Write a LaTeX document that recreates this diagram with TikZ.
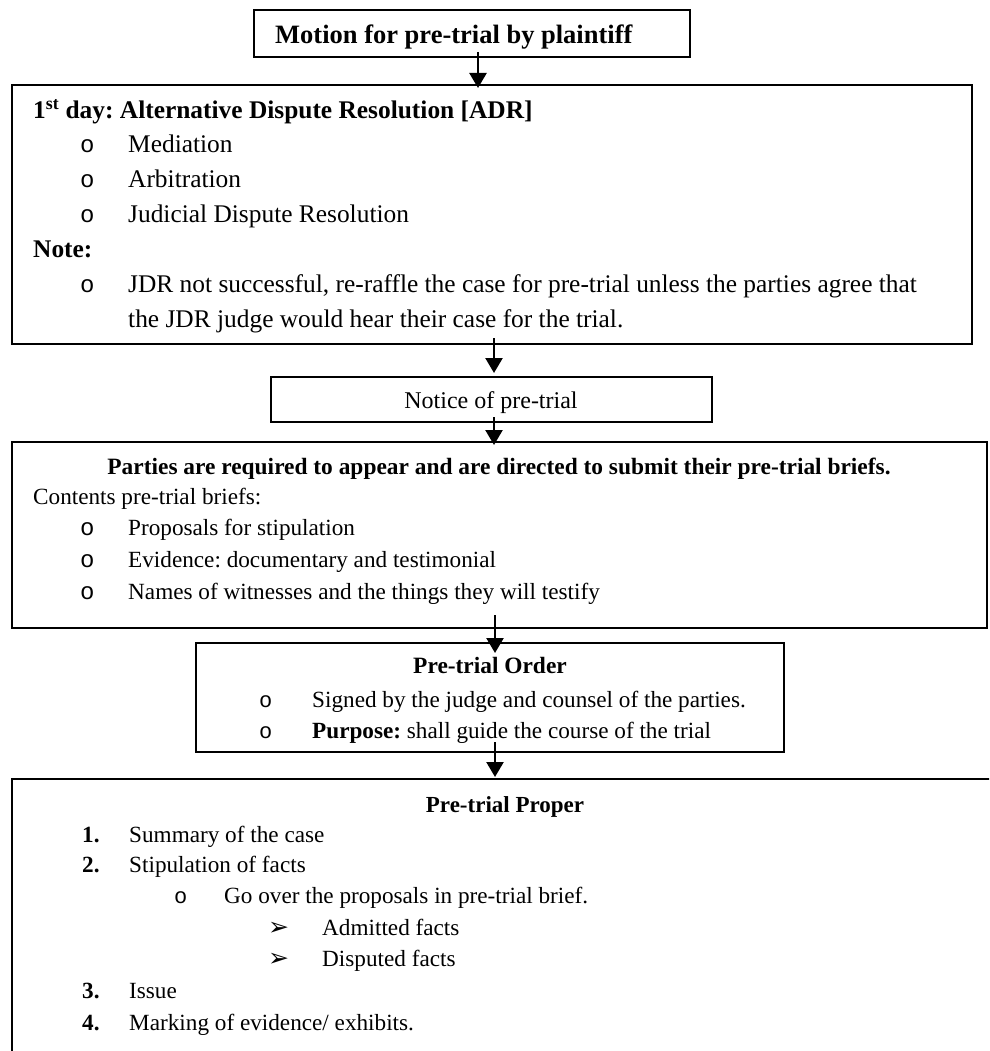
\documentclass[tikz,border=0pt]{standalone}
\usepackage{fontspec}
\setmainfont{Liberation Serif}
\newfontfamily\monofont{Liberation Mono}
\newfontfamily\symfont{DejaVu Sans}
\usetikzlibrary{arrows.meta}
\frenchspacing

\tikzset{
  box/.style={draw, line width=1.8pt, inner sep=0pt, outer sep=0pt, anchor=north west},
  arr/.style={line width=2.4pt, -{Triangle[width=17pt,length=15pt]}},
  txt/.style={anchor=base west, inner sep=0pt},
  ctxt/.style={anchor=base, inner sep=0pt},
  big/.style={font=\fontsize{25.4}{30}\selectfont},
  small/.style={font=\fontsize{23.2}{28}\selectfont},
  bul/.style={anchor=base west, inner sep=0pt, font=\monofont\fontsize{24}{28}\selectfont},
  sbul/.style={anchor=base west, inner sep=0pt, font=\monofont\fontsize{22}{26}\selectfont},
  arrbul/.style={anchor=base west, inner sep=0pt, font=\symfont\fontsize{25}{28}\selectfont},
}

\begin{document}
\begin{tikzpicture}[x=1pt, y=-1pt]
\frenchspacing
\useasboundingbox (0,0) rectangle (989,1051);
\fill[white] (0,0) rectangle (989,1051);
\clip (0,0) rectangle (989,1051);

% boxes
\node[box, minimum width=436pt, minimum height=47pt] (motion) at (254,10) {};
\node[box, minimum width=960pt, minimum height=259pt] (adr) at (12,85) {};
\node[box, minimum width=441pt, minimum height=45pt] (notice) at (271,377) {};
\node[box, minimum width=975pt, minimum height=186pt] (parties) at (12,442) {};
\node[box, minimum width=588pt, minimum height=109pt] (order) at (196,643) {};
\node[box, minimum width=990pt, minimum height=320pt] (proper) at (12,779) {};

% motion text (clipped at the bottom as in the source)
\begin{scope}
  \clip (254,10) rectangle (690,49);
  \node[txt, font=\bfseries\fontsize{26.5}{30}\selectfont] (tmotion) at (275,44) {Motion for pre-trial by plaintiff};
\end{scope}

% ADR box
\node[txt, big] (adrh) at (33,119) {\textbf{1\textsuperscript{st} day: Alternative Dispute Resolution [ADR]}};
\node[bul] (b1) at (80,153) {o};
\node[txt, big] (i1) at (128,153) {Mediation};
\node[bul] (b2) at (80,187) {o};
\node[txt, big] (i2) at (128,187) {Arbitration};
\node[bul] (b3) at (80,222) {o};
\node[txt, big] (i3) at (128,222) {Judicial Dispute Resolution};
\node[txt, big] (note) at (33,257) {\textbf{Note:}};
\node[bul] (b4) at (80,292) {o};
\node[txt, big] (i4) at (128,292) {JDR not successful, re-raffle the case for pre-trial unless the parties agree that};
\node[txt, big] (i5) at (128,327) {the JDR judge would hear their case for the trial.};

% notice
\node[ctxt, font=\fontsize{24}{28}\selectfont] (tnotice) at (491,408) {Notice of pre-trial};

% parties box
\node[ctxt, font=\bfseries\fontsize{23.4}{28}\selectfont] (ph) at (499,474) {Parties are required to appear and are directed to submit their pre-trial briefs.};
\node[txt, small] (pc) at (33,504) {Contents pre-trial briefs:};
\node[bul] (pb1) at (80,535) {o};
\node[txt, small] (p1) at (128,535) {Proposals for stipulation};
\node[bul] (pb2) at (80,567) {o};
\node[txt, small] (p2) at (128,567) {Evidence: documentary and testimonial};
\node[bul] (pb3) at (80,599) {o};
\node[txt, small] (p3) at (128,599) {Names of witnesses and the things they will testify};

% order box
\node[ctxt, font=\bfseries\fontsize{23.4}{28}\selectfont] (oh) at (490,673) {Pre-trial Order};
\node[sbul] (ob1) at (259,707) {o};
\node[txt, small] (o1) at (312,707) {Signed by the judge and counsel of the parties.};
\node[sbul] (ob2) at (259,738) {o};
\node[txt, small] (o2) at (312,738) {\textbf{Purpose:} shall guide the course of the trial};

% proper box
\node[ctxt, font=\bfseries\fontsize{23}{28}\selectfont] (prh) at (505,812) {Pre-trial Proper};
\node[txt, small] (n1) at (82,842) {\textbf{1.}};
\node[txt, small] (r1) at (129,842) {Summary of the case};
\node[txt, small] (n2) at (82,872) {\textbf{2.}};
\node[txt, small] (r2) at (129,872) {Stipulation of facts};
\node[sbul] (rb) at (174,903) {o};
\node[txt, small] (r3) at (224,903) {Go over the proposals in pre-trial brief.};
\node[arrbul] (ab1) at (268,935) {➢};
\node[txt, small] (r4) at (322,935) {Admitted facts};
\node[arrbul] (ab2) at (268,966) {➢};
\node[txt, small] (r5) at (322,966) {Disputed facts};
\node[txt, small] (n3) at (82,998) {\textbf{3.}};
\node[txt, small] (r6) at (129,998) {Issue};
\node[txt, small] (n4) at (82,1030) {\textbf{4.}};
\node[txt, small] (r7) at (129,1030) {Marking of evidence/ exhibits.};

% connectors
\coordinate (a1) at ([xshift=6pt,yshift=5pt]motion.south);
\draw[arr, shorten >=-3pt] (a1) -- (a1 |- adr.north);
\coordinate (a2) at ([xshift=2pt,yshift=6pt]adr.south);
\draw[arr, shorten >=4pt] (a2) -- (a2 |- notice.north);
\coordinate (a3) at ([xshift=2.5pt,yshift=5pt]notice.south);
\draw[arr, shorten >=-3pt] (a3) -- (a3 |- parties.north);
\coordinate (a4) at ([xshift=-4.5pt,yshift=13pt]parties.south);
\draw[arr, shorten >=-10pt] (a4) -- (a4 |- order.north);
\coordinate (a5) at ([xshift=5pt,yshift=10pt]order.south);
\draw[arr, shorten >=2pt] (a5) -- (a5 |- proper.north);
\end{tikzpicture}
\end{document}
